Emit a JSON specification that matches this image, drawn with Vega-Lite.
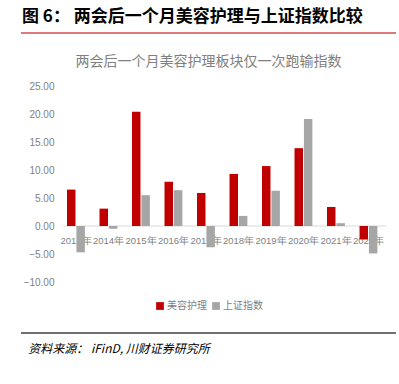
{
  "$schema": "https://vega.github.io/schema/vega-lite/v6.json",
  "padding": {"left": 20, "top": 8, "right": 4, "bottom": 4},
  "background": "white",
  "spacing": 21,
  "config": {
    "view": {"stroke": null},
    "font": "Noto Sans CJK SC",
    "legend": {"layout": {"bottom": {"anchor": "middle"}}}
  },
  "resolve": {"legend": {"color": "independent"}},
  "datasets": {
    "bars": [
      {"year": "2013年", "series": "美容护理", "value": 6.5},
      {"year": "2013年", "series": "上证指数", "value": -4.7},
      {"year": "2014年", "series": "美容护理", "value": 3.1},
      {"year": "2014年", "series": "上证指数", "value": -0.5},
      {"year": "2015年", "series": "美容护理", "value": 20.4},
      {"year": "2015年", "series": "上证指数", "value": 5.5},
      {"year": "2016年", "series": "美容护理", "value": 7.9},
      {"year": "2016年", "series": "上证指数", "value": 6.4},
      {"year": "2017年", "series": "美容护理", "value": 5.9},
      {"year": "2017年", "series": "上证指数", "value": -3.8},
      {"year": "2018年", "series": "美容护理", "value": 9.3},
      {"year": "2018年", "series": "上证指数", "value": 1.8},
      {"year": "2019年", "series": "美容护理", "value": 10.7},
      {"year": "2019年", "series": "上证指数", "value": 6.3},
      {"year": "2020年", "series": "美容护理", "value": 13.9},
      {"year": "2020年", "series": "上证指数", "value": 19.1},
      {"year": "2021年", "series": "美容护理", "value": 3.4},
      {"year": "2021年", "series": "上证指数", "value": 0.5},
      {"year": "2022年", "series": "美容护理", "value": -2.4},
      {"year": "2022年", "series": "上证指数", "value": -4.9}
    ],
    "years": [
      {"year": "2013年"}, {"year": "2014年"}, {"year": "2015年"}, {"year": "2016年"}, {"year": "2017年"},
      {"year": "2018年"}, {"year": "2019年"}, {"year": "2020年"}, {"year": "2021年"}, {"year": "2022年"}
    ],
    "zero": [{"from": "2013年", "to": "2022年", "z": 0}]
  },
  "vconcat": [
    {
      "width": 375,
      "height": 1,
      "title": {
        "text": "图 6：  两会后一个月美容护理与上证指数比较",
        "anchor": "start",
        "fontSize": 17,
        "fontWeight": "bold",
        "color": "#000000",
        "font": "Noto Sans CJK SC",
        "offset": 6,
        "dx": 2
      },
      "data": {"values": [{"v": 0}]},
      "mark": {"type": "rule", "color": "#e07a7a", "strokeWidth": 2},
      "encoding": {
        "y": {"field": "v", "type": "quantitative", "axis": null, "scale": {"domain": [0, 1]}}
      }
    },
    {
      "width": 375,
      "height": 196,
      "title": {
        "text": "两会后一个月美容护理板块仅一次跑输指数",
        "anchor": "middle",
        "frame": "group",
        "fontSize": 14,
        "fontWeight": "normal",
        "color": "#808080",
        "font": "Noto Sans CJK SC",
        "offset": 12
      },
      "layer": [
        {
          "data": {"name": "zero"},
          "mark": {"type": "rule", "color": "#d9d9d9", "strokeWidth": 1},
          "encoding": {
            "x": {"field": "from", "type": "nominal", "bandPosition": -0.22},
            "x2": {"field": "to", "bandPosition": 1.48},
            "y": {"field": "z", "type": "quantitative"}
          }
        },
        {
          "data": {"name": "years"},
          "mark": {"type": "text", "fontSize": 9.5, "color": "#7f7f7f", "dy": 15, "font": "Liberation Sans Narrow, Liberation Sans"},
          "encoding": {
            "x": {"field": "year", "type": "nominal"},
            "y": {"datum": 0, "type": "quantitative"},
            "text": {"field": "year"}
          }
        },
        {
          "data": {"name": "bars"},
          "mark": {"type": "bar"},
          "encoding": {
            "x": {"field": "year", "type": "nominal"},
            "xOffset": {"field": "series", "type": "nominal", "sort": ["美容护理", "上证指数"], "scale": {"paddingInner": 0.1}},
            "y": {"field": "value", "type": "quantitative"},
            "color": {
              "field": "series",
              "type": "nominal",
              "sort": ["美容护理", "上证指数"],
              "scale": {"domain": ["美容护理", "上证指数"], "range": ["#c00000", "#a6a6a6"]},
              "legend": {
                "title": null,
                "orient": "bottom",
                "direction": "horizontal",
                "symbolType": "square",
                "symbolSize": 60,
                "labelFontSize": 10,
                "labelColor": "#7f7f7f",
                "labelFont": "Noto Sans CJK SC",
                "columnPadding": 4,
                "labelOffset": 2,
                "offset": 19
              }
            }
          }
        }
      ],
      "resolve": {"scale": {"x": "shared", "y": "shared"}},
      "encoding": {
        "x": {
          "field": "year",
          "type": "nominal",
          "scale": {"paddingInner": 0.45, "paddingOuter": 0.994, "align": 0.712},
          "axis": null
        },
        "y": {
          "type": "quantitative",
          "scale": {"domain": [-10, 25], "nice": false},
          "axis": {
            "title": null,
            "values": [-10, -5, 0, 5, 10, 15, 20, 25],
            "format": ".2f",
            "domain": false,
            "ticks": false,
            "grid": false,
            "labelFontSize": 10,
            "labelColor": "#7f7f7f",
            "labelFont": "Liberation Sans",
            "labelPadding": 8,
            "offset": -41
          }
        }
      }
    },
    {
      "width": 375,
      "height": 1,
      "title": {
        "text": "资料来源：  iFinD,  川财证券研究所",
        "orient": "bottom",
        "anchor": "start",
        "fontSize": 12,
        "fontWeight": "normal",
        "fontStyle": "italic",
        "color": "#000000",
        "font": "Noto Sans CJK SC",
        "offset": 10,
        "dx": 8
      },
      "data": {"values": [{"v": 0}]},
      "mark": {"type": "rule", "color": "#404040", "strokeWidth": 1.5},
      "encoding": {
        "y": {"field": "v", "type": "quantitative", "axis": null, "scale": {"domain": [0, 1]}}
      }
    }
  ]
}
